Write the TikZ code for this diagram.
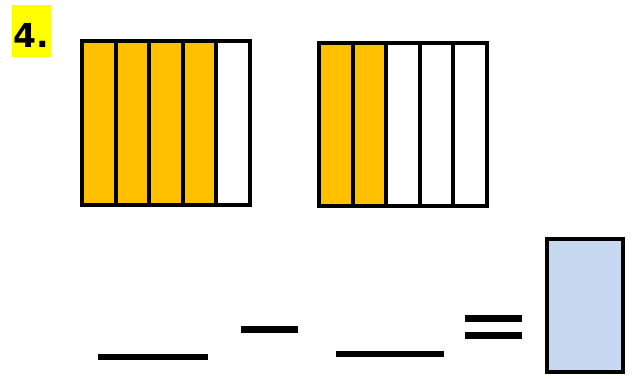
\documentclass[tikz,border=0pt]{standalone}
\usepackage{fontspec}
\setmainfont{DejaVu Sans}
\definecolor{barorange}{RGB}{255,192,0}
\definecolor{ansblue}{RGB}{198,217,240}
\definecolor{hl}{RGB}{255,255,0}
\begin{document}
\begin{tikzpicture}[x=1pt,y=-1pt,
  cell/.style={draw=black,line width=4pt},
  blank/.style={line width=6pt},
  sign/.style={line width=7pt}]
\useasboundingbox (0,0) rectangle (635,378);
% label
\fill[hl] (12,5) rectangle (51,57);
\node[font=\bfseries\fontsize{33}{33}\selectfont,inner sep=0pt] (lab) at (31,35) {4.};
% first bar: 4 of 5 shaded
\foreach \i in {0,...,4}{
  \pgfmathsetmacro{\xa}{82+33.6*\i}
  \pgfmathsetmacro{\xb}{82+33.6*(\i+1)}
  \ifnum\i<4
    \filldraw[cell,fill=barorange] (\xa,41) rectangle (\xb,205);
  \else
    \filldraw[cell,fill=white] (\xa,41) rectangle (\xb,205);
  \fi
}
% second bar: 2 of 5 shaded
\foreach \i in {0,...,4}{
  \pgfmathsetmacro{\xa}{319+33.5*\i}
  \pgfmathsetmacro{\xb}{319+33.5*(\i+1)}
  \ifnum\i<2
    \filldraw[cell,fill=barorange] (\xa,43) rectangle (\xb,206);
  \else
    \filldraw[cell,fill=white] (\xa,43) rectangle (\xb,206);
  \fi
}
% equation
\draw[blank] (98,357) -- (208,357);
\draw[sign] (241,329.5) -- (298,329.5);
\draw[blank] (336,354) -- (444,354);
\draw[sign] (465,318) -- (522,318);
\draw[sign] (465,335.5) -- (522,335.5);
\filldraw[cell,fill=ansblue] (547,239) rectangle (623,372);
\end{tikzpicture}
\end{document}
